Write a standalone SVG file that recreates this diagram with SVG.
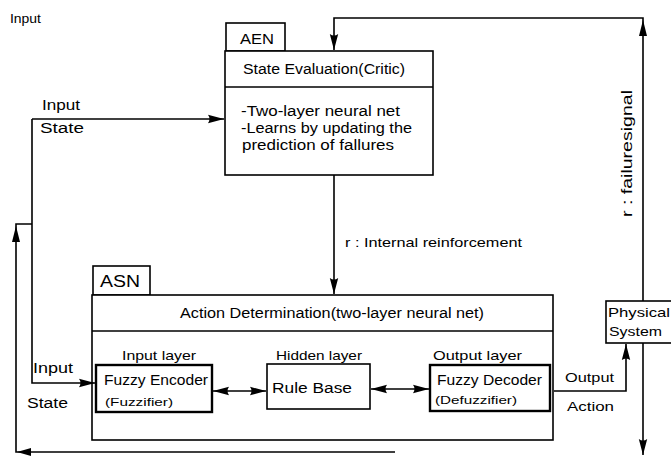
<svg xmlns="http://www.w3.org/2000/svg" width="671" height="457" viewBox="0 0 671 457">
<defs>
<style>
text{font-family:"Liberation Sans",Arial,sans-serif;fill:#000;}
.box{fill:#fff;stroke:#000;stroke-width:1.6;}
.thick{fill:#fff;stroke:#000;stroke-width:2.4;}
.ln{fill:none;stroke:#000;stroke-width:1.6;}
.t14{font-size:14px;}
.t13{font-size:13px;}
.t12{font-size:12px;}
.t11{font-size:11px;}
</style>
<marker id="ah" markerUnits="userSpaceOnUse" markerWidth="18" markerHeight="10" refX="16" refY="5" orient="auto-start-reverse" viewBox="0 0 18 10">
<path d="M0,0.8 L16,5 L0,9.2 Q3,5 0,0.8 z" fill="#000"/>
</marker>
</defs>
<rect width="671" height="457" fill="#fff"/>

<text class="t12" x="10" y="23" textLength="31" lengthAdjust="spacingAndGlyphs">Input</text>
<text class="t14" x="42" y="110" textLength="38" lengthAdjust="spacingAndGlyphs">Input</text>
<text class="t14" x="40" y="133" textLength="44" lengthAdjust="spacingAndGlyphs">State</text>
<text class="t14" x="33" y="373" textLength="40" lengthAdjust="spacingAndGlyphs">Input</text>
<text class="t14" x="27" y="408" textLength="41" lengthAdjust="spacingAndGlyphs">State</text>
<text class="t13" x="345" y="247" textLength="177" lengthAdjust="spacingAndGlyphs">r : Internal reinforcement</text>
<text class="t14" transform="translate(632,217) rotate(-90)" textLength="127" lengthAdjust="spacingAndGlyphs">r : failuresignal</text>
<text class="t12" x="565" y="382" textLength="49" lengthAdjust="spacingAndGlyphs">Output</text>
<text class="t13" x="567" y="411" textLength="47" lengthAdjust="spacingAndGlyphs">Action</text>

<g id="AEN">
<rect class="box" x="226" y="23" width="59" height="28"/>
<rect class="box" x="225" y="51" width="208" height="124"/>
<line class="ln" x1="225" y1="87" x2="433" y2="87"/>
<text class="t14" x="240" y="44" textLength="34" lengthAdjust="spacingAndGlyphs">AEN</text>
<text class="t14" x="243" y="74" textLength="162" lengthAdjust="spacingAndGlyphs">State Evaluation(Critic)</text>
<text class="t14" x="241" y="116" textLength="159" lengthAdjust="spacingAndGlyphs">-Two-layer neural net</text>
<text class="t14" x="241" y="133" textLength="171" lengthAdjust="spacingAndGlyphs">-Learns by updating the</text>
<text class="t14" x="242" y="150" textLength="152" lengthAdjust="spacingAndGlyphs">prediction of fallures</text>
</g>

<g id="ASN">
<rect class="box" x="93" y="266" width="57" height="29"/>
<rect class="box" x="92" y="295" width="461" height="145"/>
<line class="ln" x1="92" y1="331" x2="553" y2="331"/>
<text x="100" y="287" font-size="16" textLength="40" lengthAdjust="spacingAndGlyphs">ASN</text>
<text class="t14" x="180" y="318" textLength="304" lengthAdjust="spacingAndGlyphs">Action Determination(two-layer neural net)</text>
<text class="t13" x="122" y="360" textLength="74" lengthAdjust="spacingAndGlyphs">Input layer</text>
<text class="t13" x="276" y="360" textLength="86" lengthAdjust="spacingAndGlyphs">Hidden layer</text>
<text class="t13" x="433" y="360" textLength="89" lengthAdjust="spacingAndGlyphs">Output layer</text>
</g>

<g id="fuzzy-encoder">
<rect class="thick" x="96" y="365" width="116" height="47"/>
<text class="t14" x="104" y="385" textLength="104" lengthAdjust="spacingAndGlyphs">Fuzzy Encoder</text>
<text class="t11" x="105" y="406" textLength="68" lengthAdjust="spacingAndGlyphs">(Fuzzifier)</text>
</g>

<g id="rule-base">
<rect class="box" x="267" y="364" width="103" height="45"/>
<text class="t14" x="272" y="393" textLength="80" lengthAdjust="spacingAndGlyphs">Rule Base</text>
</g>

<g id="fuzzy-decoder">
<rect class="thick" x="430" y="365" width="120" height="46"/>
<text class="t14" x="437" y="385" textLength="105" lengthAdjust="spacingAndGlyphs">Fuzzy Decoder</text>
<text class="t11" x="435" y="404" textLength="82" lengthAdjust="spacingAndGlyphs">(Defuzzifier)</text>
</g>

<g id="physical-system">
<rect class="box" x="606" y="301" width="70" height="42"/>
<text class="t13" x="608" y="317" textLength="62" lengthAdjust="spacingAndGlyphs">Physical</text>
<text class="t13" x="609" y="336" textLength="53" lengthAdjust="spacingAndGlyphs">System</text>
</g>

<g id="connectors">
<path class="ln" d="M32,119 H224" marker-end="url(#ah)"/>
<path class="ln" d="M32,119 V383 H95" marker-end="url(#ah)"/>
<path class="ln" d="M395,452 H16 V224 H32"/>
<polygon points="16,226 12,242 20,242" fill="#000"/>
<polygon points="17,452 31,448 31,456" fill="#000"/>
<path class="ln" d="M334,175 V294" marker-end="url(#ah)"/>
<path class="ln" d="M643,301 V18 H334 V50" marker-end="url(#ah)"/>
<polygon points="643,20 639,36 647,36" fill="#000"/>
<path class="ln" d="M643,343 V455" marker-end="url(#ah)"/>
<path class="ln" d="M554,391 H626 V344" marker-end="url(#ah)"/>
<path class="ln" d="M213,391 H266" marker-start="url(#ah)" marker-end="url(#ah)"/>
<path class="ln" d="M371,389 H429" marker-start="url(#ah)" marker-end="url(#ah)"/>
</g>
</svg>
